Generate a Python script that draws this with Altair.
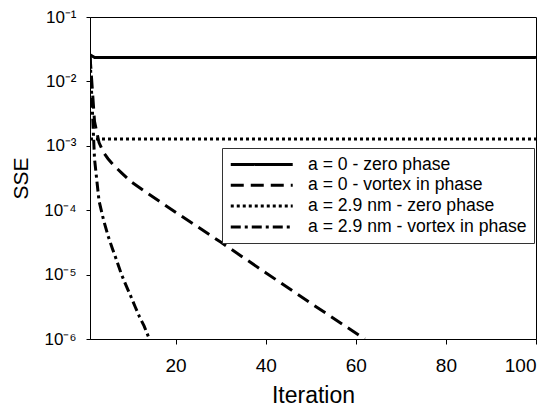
import altair as alt
import pandas as pd

# ---- data ----
series_names = [
    "a = 0 - zero phase",
    "a = 0 - vortex in phase",
    "a = 2.9 nm - zero phase",
    "a = 2.9 nm - vortex in phase",
]

it_zero_a0 = [1, 2, 100]
sse_zero_a0 = [0.026, 0.0235, 0.0235]

it_vortex_a0 = [1, 2, 3, 4, 5, 6, 8, 10, 13, 20, 30, 40, 50, 62]
sse_vortex_a0 = [0.025, 0.0024, 0.00112, 0.00079, 0.00063, 0.00052, 0.00038,
                 0.00028, 0.0002, 9.3e-5, 3.2e-5, 1.07e-5, 3.6e-6, 1.0e-6]

it_zero_a29 = [1, 100]
sse_zero_a29 = [0.00128, 0.00128]

it_vortex_a29 = [1, 2, 3, 4, 5, 6, 7, 8, 9, 10, 11, 12, 13, 14]
sse_vortex_a29 = [0.025, 6.3e-4, 1.4e-4, 7.1e-5, 4.0e-5, 2.5e-5, 1.6e-5, 1.0e-5,
                  6.8e-6, 4.7e-6, 3.2e-6, 2.2e-6, 1.6e-6, 1.07e-6]

x_ticks = [20, 40, 60, 80, 100]
y_ticks = [1e-1, 1e-2, 1e-3, 1e-4, 1e-5, 1e-6]
y_tick_labels = ["10\u207b\u00b9", "10\u207b\u00b2", "10\u207b\u00b3",
                 "10\u207b\u2074", "10\u207b\u2075", "10\u207b\u2076"]

dash_styles = [[1, 0], [13, 7], [3, 3], [10, 4, 3, 4]]

# ---- build table ----
rows = []
for name, its, vals in zip(series_names,
                           [it_zero_a0, it_vortex_a0, it_zero_a29, it_vortex_a29],
                           [sse_zero_a0, sse_vortex_a0, sse_zero_a29, sse_vortex_a29]):
    for i, v in zip(its, vals):
        rows.append({"series": name, "iteration": i, "sse": v})
df = pd.DataFrame(rows)

label_expr = " : ".join(
    f"abs(datum.value - {v}) < {v * 0.01} ? '{lab}'" for v, lab in zip(y_ticks, y_tick_labels)
) + " : ''"

FONT = "Liberation Sans"

chart = alt.Chart(df).mark_line(color="black", strokeWidth=3, clip=True).encode(
    x=alt.X("iteration:Q",
            scale=alt.Scale(domain=[1, 100], nice=False, zero=False),
            axis=alt.Axis(values=x_ticks, title="Iteration", tickSize=5,
                          labelFontSize=19, labelPadding=12,
                          titleFontSize=23, titleFontWeight="normal", titlePadding=9)),
    y=alt.Y("sse:Q",
            scale=alt.Scale(type="log", domain=[1e-6, 1e-1], nice=False),
            axis=alt.Axis(values=y_ticks, labelExpr=label_expr, title="SSE", tickSize=4,
                          labelFontSize=17, labelPadding=10,
                          titleFontSize=21, titleFontWeight="normal", titlePadding=12)),
    strokeDash=alt.StrokeDash(
        "series:N",
        scale=alt.Scale(domain=series_names, range=dash_styles),
        legend=alt.Legend(orient="none", legendX=132, legendY=131, title=None,
                          symbolType="M-1,0H7", symbolSize=240, symbolStrokeWidth=3,
                          symbolStrokeColor="black", labelFontSize=17.6, labelFont=FONT,
                          labelColor="black", labelOffset=60, labelLimit=400,
                          strokeColor="#333", fillColor="white", padding=7,
                          rowPadding=1.8),
    ),
    order="iteration:Q",
).properties(
    width=446, height=322,
    autosize="none",
    padding={"left": 82, "top": 9, "right": 11, "bottom": 68},
).configure_view(
    stroke="black", strokeWidth=1,
).configure_axis(
    grid=False, domainColor="black", tickColor="black", labelColor="black",
    titleColor="black", labelFont=FONT, titleFont=FONT,
)

chart.save("out.html", embed_options={"renderer": "svg", "actions": False})
